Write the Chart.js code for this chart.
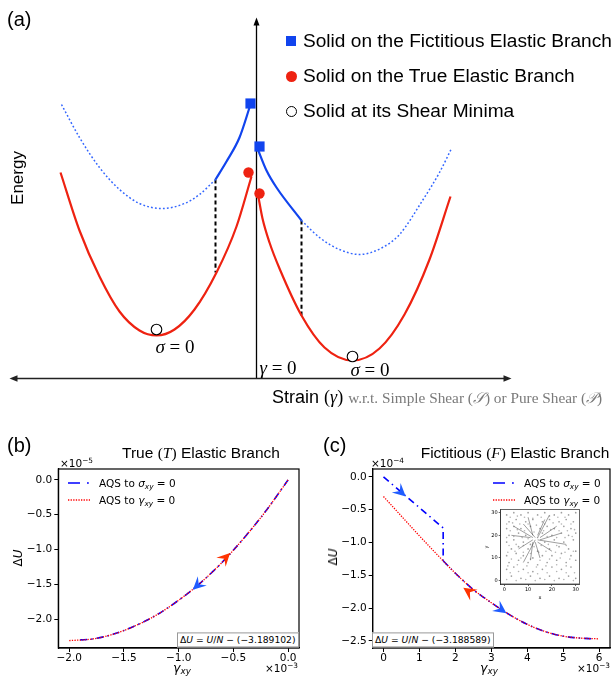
<!DOCTYPE html>
<html><head><meta charset="utf-8">
<script src="https://cdn.jsdelivr.net/npm/chart.js@4.4.1/dist/chart.umd.min.js"></script>
<style>
html,body{margin:0;padding:0;background:#fff}
body{width:616px;height:677px;position:relative;overflow:hidden;font-family:"Liberation Sans",Arial,sans-serif;color:#000}
canvas{position:absolute}
.t{position:absolute;white-space:nowrap;line-height:1}
.cm{font-family:"Liberation Serif","DejaVu Serif",serif;font-style:italic}
.rm{font-family:"Liberation Serif","DejaVu Serif",serif;font-style:normal}
.dj{font-family:"DejaVu Sans",sans-serif}
.it{font-style:italic}
sub{font-size:70%;vertical-align:-0.3em;line-height:0}
sup{font-size:70%;vertical-align:0.55em;line-height:0}
</style></head><body>
<canvas id="ca" width="616" height="410" style="left:0;top:0"></canvas>
<canvas id="cb" width="308" height="277" style="left:0;top:400px"></canvas>
<canvas id="cc" width="306" height="277" style="left:310px;top:400px"></canvas>
<canvas id="ci" width="106" height="100" style="left:478px;top:503px"></canvas>
<script>
// ================= DATA =================
// Panel (a): schematic energy landscape, strain (arb. units) vs energy (arb. units)
const trueLeftStrain  = [-1.96,-1.77,-1.57,-1.37,-1.17,-1.00,-0.82,-0.62,-0.40,-0.20,-0.05];
const trueLeftEnergy  = [ 2.06, 1.48, 1.02, 0.67, 0.48, 0.43, 0.49, 0.69, 1.06, 1.52, 2.02];
const trueRightStrain = [0.02,0.06,0.13,0.23,0.45,0.68,0.96,1.23,1.48,1.73,1.94];
const trueRightEnergy = [1.81,1.60,1.36,1.10,0.63,0.31,0.18,0.30,0.64,1.19,1.82];
const fictLeftStrain  = [-1.95,-1.77,-1.57,-1.37,-1.17,-0.94,-0.72,-0.57,-0.41];
const fictLeftEnergy  = [ 2.74, 2.41, 2.11, 1.89, 1.75, 1.70, 1.75, 1.84, 1.99];
const fictLeftPathStrain  = [-0.41,-0.30,-0.17,-0.06];
const fictLeftPathEnergy  = [ 1.99, 2.17, 2.41, 2.74];
const fictRightPathStrain = [0.01,0.10,0.20,0.45];
const fictRightPathEnergy = [2.30,2.08,1.91,1.58];
const fictRightStrain = [0.45,0.63,0.83,1.03,1.26,1.43,1.66,1.83,1.95];
const fictRightEnergy = [1.58,1.41,1.29,1.24,1.31,1.44,1.78,2.06,2.30];
const dropStrain = [-0.41, 0.45];
const dropTop    = [ 1.99, 1.58];
const dropBottom = [ 1.06, 0.63];
const fictMarkStrain = [-0.06, 0.03], fictMarkEnergy = [2.75, 2.32];
const trueMarkStrain = [-0.08, 0.03], trueMarkEnergy = [2.06, 1.85];
const minMarkStrain  = [-1.00, 0.96], minMarkEnergy  = [0.49, 0.22];
const strainAxisEnds = [-2.47, 2.55];
const energyAxisTop  = 3.61;

// Panel (b): True elastic branch, gamma_xy (x1e-3) vs dU (x1e-5)
const bGammaSigma = [-1.9,-1.8,-1.6,-1.4,-1.2,-1.0,-0.8,-0.6,-0.4,-0.2,0.0];
const bUSigma     = [-2.30,-2.29,-2.22,-2.10,-1.94,-1.73,-1.48,-1.18,-0.83,-0.44,0.0];
const bGammaGamma = [-2.0,-1.8,-1.6,-1.4,-1.2,-1.0,-0.8,-0.6,-0.4,-0.2,0.0];
const bUGamma     = [-2.31,-2.29,-2.22,-2.10,-1.94,-1.73,-1.48,-1.18,-0.83,-0.44,0.0];
const bXTicks = [-2.0,-1.5,-1.0,-0.5,0.0];
const bYTicks = [0.0,-0.5,-1.0,-1.5,-2.0];
const bArrowFrom = [[-0.63,-1.21],[-0.77,-1.43]];
const bArrowTip  = [[-0.53,-1.05],[-0.87,-1.58]];

// Panel (c): Fictitious elastic branch, gamma_xy (x1e-3) vs dU (x1e-4)
const cGammaSigmaJump = [0.0, 1.66, 1.66];
const cUSigmaJump     = [0.0,-0.78,-1.28];
const cGammaSigma = [1.66,2.0,2.5,3.0,3.5,4.0,4.5,5.0,5.5,5.85];
const cUSigma     = [-1.28,-1.47,-1.72,-1.92,-2.10,-2.25,-2.36,-2.43,-2.46,-2.47];
const cGammaGamma = [0,0.5,1.0,1.5,2.0,2.5,3.0,3.5,4.0,4.5,5.0,5.5,6.0];
const cUGamma     = [-0.30,-0.60,-0.90,-1.19,-1.47,-1.72,-1.92,-2.10,-2.25,-2.36,-2.43,-2.46,-2.47];
const cXTicks = [0,1,2,3,4,5,6];
const cYTicks = [0.0,-0.5,-1.0,-1.5,-2.0,-2.5];
const cArrowFrom = [[0.38,-0.18],[2.48,-1.79],[3.16,-1.98]];
const cArrowTip  = [[0.62,-0.30],[2.22,-1.69],[3.42,-2.08]];
const cArrowKind = ['sigma','gamma','sigma'];

// Inset: particle snapshot (x, y)
const insetX = [1,4,7,10,14,17,21,24,27,30, 2,5,9,12,16,19,23,26,29, 1,4,7,11,15,18,21,25,28, 2,6,9,16,20,24,27,30, 1,4,8,11,17,21,25,29, 3,6,10,14,19,23,27,30, 1,5,8,12,16,20,24,28, 2,6,10,14,18,22,26,30, 1,4,8,12,16,20,24,28, 3,7,11,15,19,23,27,30];
const insetY = [29,30,29,30,29,30,29,30,29,30, 26,27,26,27,26,27,26,27,26, 23,24,23,24,23,24,23,24,23, 20,21,20,21,20,21,20,21, 17,18,17,16,17,18,17,18, 14,15,14,13,14,15,14,13, 11,12,11,10,11,11,12,11, 8,9,8,7,8,9,8,9, 5,6,5,4,5,6,5,6, 2,1,2,1,2,1,2,1];
const insetX2 = [2.5,5.5,8.5,12,15.5,19,22.5,25.5, 1,3.5,6.5,10,13.5,17,20.5,24,28, 2.5,5.5,8.5,12.5,16.5,19.5,23,26.5,29.5, 1,4,7.5,10,14,18,22,25.5,28.5, 2,5,8,12.5,15.5,18.5,22,26, 1.5,4.5,8,11,14.5,17.5,21.5,25.5,29, 3,7,11,15,19,23.5,27.5, 1.5,5.5,9.5,13.5,17.5,22,26, 2.5,6,10,14,18,22,26,29.5, 1,5,9,13,17,21,25,29];
const insetY2 = [28,28.5,28,27.5,28,28.5,28,28, 25,25.5,25,25,24.5,25,25.5,25,25, 22,22.5,22,21.5,22,22.5,22,22,22.5, 19,19.5,19,18.5,19,19.5,19,19,19.5, 15.5,16,15.5,15,15.5,16,15.5,15.5, 12.5,13,12.5,12,12.5,13,12.5,12.5,13, 9.5,10,9.5,9,9.5,10,9.5, 6.5,7,6.5,6,6.5,7,6.5, 3.5,4,3.5,3,3.5,4,3.5,3.5, 0.5,0,0.5,0,0.5,0,0.5,0];
const streakFromX = [13,12,14,15,15,14,13,12,12,11,12,14,13,14];
const streakFromY = [19,20,20,19,18,17,17,17,18,19,19,19,18,18];
const streakToX   = [8,10,17,22,24,20,15,11,6,3,4,19,8,26];
const streakToY   = [25,28,27,24,21,13,10,9,14,20,24,29,8,16];
const insetTicks = [0,10,20,30];

// ================= HELPERS =================
const pts = (xs, ys) => xs.map((x,i)=>({x, y: ys[i]}));
const minus = v => (v<0?'\u2212':'') + Math.abs(v).toFixed(1);
const RED='#ff0000', BLUE='#0000ff', SRED='#ee2211', SBLUE='#1144ee', DBLUE='#3366ff';
const AR_RED='#ff3300', AR_BLUE='#1f5cff';

function T(html, x, y, o={}){
  const d=document.createElement('div');
  d.className='t '+(o.cls||'');
  d.innerHTML=html;
  d.style.left=x+'px'; d.style.top=y+'px';
  d.style.fontSize=(o.size||13)+'px';
  const tx = o.align==='center'?'-50%':(o.align==='right'?'-100%':'0');
  d.style.transform='translate('+tx+',-50%)'+(o.rot?' rotate('+o.rot+'deg)':'');
  if(o.color) d.style.color=o.color;
  if(o.css) d.style.cssText+=o.css;
  document.body.appendChild(d);
  return d;
}
function head(ctx,x0,y0,x1,y1,color,L,W){
  const a=Math.atan2(y1-y0,x1-x0);
  ctx.save(); ctx.translate(x1,y1); ctx.rotate(a);
  ctx.beginPath(); ctx.moveTo(0,0); ctx.lineTo(-L,-W); ctx.lineTo(-L*0.62,0); ctx.lineTo(-L,W); ctx.closePath();
  ctx.fillStyle=color; ctx.fill(); ctx.restore();
}
function tri(ctx,x,y,ang,L,W){
  ctx.save(); ctx.translate(x,y); ctx.rotate(ang);
  ctx.beginPath(); ctx.moveTo(0,0); ctx.lineTo(-L,-W); ctx.lineTo(-L,W); ctx.closePath(); ctx.fill(); ctx.restore();
}
Chart.defaults.animation=false;
Chart.defaults.font.family='DejaVu Sans';

// ================= PANEL (a) =================
const axesA = {id:'axesA', beforeDatasetsDraw(ch){
  const c=ch.ctx, X=ch.scales.x, Y=ch.scales.y;
  const x0=X.getPixelForValue(0), y0=Y.getPixelForValue(0);
  const yt=Y.getPixelForValue(energyAxisTop);
  const xl=X.getPixelForValue(strainAxisEnds[0]), xr=X.getPixelForValue(strainAxisEnds[1]);
  c.save(); c.strokeStyle='#000'; c.fillStyle='#000';
  c.lineWidth=1.3;
  c.beginPath(); c.moveTo(x0,y0); c.lineTo(x0,yt+6); c.stroke();
  tri(c,x0,yt,-Math.PI/2,8,3);
  c.strokeStyle='#222'; c.fillStyle='#222'; c.lineWidth=1.6;
  c.beginPath(); c.moveTo(xl+6,y0); c.lineTo(xr-6,y0); c.stroke();
  tri(c,xr,y0,0,8,3.2); tri(c,xl,y0,Math.PI,8,3.2);
  c.restore();
}};
const lineDS = (xs,ys,color,w,dash,extra={}) => Object.assign({data:pts(xs,ys),showLine:true,borderColor:color,borderWidth:w,borderDash:dash||[],pointRadius:0,cubicInterpolationMode:'monotone',fill:false},extra);
new Chart(document.getElementById('ca'),{
  type:'scatter',
  data:{datasets:[
    lineDS(fictLeftStrain,fictLeftEnergy,DBLUE,1.5,[1.8,2.2]),
    lineDS(fictRightStrain,fictRightEnergy,DBLUE,1.5,[1.8,2.2]),
    lineDS(trueLeftStrain,trueLeftEnergy,SRED,2.2),
    lineDS(trueRightStrain,trueRightEnergy,SRED,2.2),
    lineDS(fictLeftPathStrain,fictLeftPathEnergy,SBLUE,2.2),
    lineDS(fictRightPathStrain,fictRightPathEnergy,SBLUE,2.2),
    lineDS([dropStrain[0],dropStrain[0]],[dropTop[0],dropBottom[0]],'#000',2,[4,3],{tension:0}),
    lineDS([dropStrain[1],dropStrain[1]],[dropTop[1],dropBottom[1]],'#000',2,[4,3],{tension:0}),
    {data:pts(fictMarkStrain,fictMarkEnergy),pointStyle:'rect',pointRadius:7.2,backgroundColor:SBLUE,borderWidth:0,order:-1},
    {data:pts(trueMarkStrain,trueMarkEnergy),pointStyle:'circle',pointRadius:5.2,backgroundColor:SRED,borderWidth:0,order:-1},
    {data:pts(minMarkStrain,minMarkEnergy),pointStyle:'circle',pointRadius:5.3,backgroundColor:'#fff',borderColor:'#000',borderWidth:1.1,order:-1}
  ]},
  options:{responsive:false,layout:{padding:0,autoPadding:false},
    scales:{x:{type:'linear',display:false,min:-2.565,max:3.595},y:{type:'linear',display:false,min:-0.315,max:3.785}},
    plugins:{legend:{display:false},tooltip:{enabled:false}}},
  plugins:[axesA]
});

// ================= PANELS (b),(c) =================
function axis(pos,min,max,ticks,fmt,fit,font){
  const big=font>8;
  return {type:'linear',position:pos,min,max,
    afterBuildTicks(s){s.ticks=ticks.map(v=>({value:v}));},
    afterFit(s){ if(pos==='left') s.width=fit; else s.height=fit; },
    grid:{display:true,drawOnChartArea:false,drawTicks:true,tickLength:big?4:2,tickWidth:big?1:0.6,tickColor:'#000',color:'#000'},
    border:{display:true,color:'#000',width:big?1.2:0.6},
    ticks:{color:'#000',font:{family:'DejaVu Sans',size:font},padding:big?(pos==='left'?2:0):1,callback:fmt,autoSkip:false,maxRotation:0,minRotation:0}
  };
}
const frame={id:'frame',afterDatasetsDraw(ch,a,o){
  const c=ch.ctx,ar=ch.chartArea; c.save(); c.strokeStyle='#000'; c.lineWidth=o.w||1.2;
  c.strokeRect(ar.left,ar.top,ar.right-ar.left,ar.bottom-ar.top); c.restore();}};
function arrowsPlugin(from,tip,kinds){return {id:'arrows',afterDatasetsDraw(ch){
  const c=ch.ctx,X=ch.scales.x,Y=ch.scales.y;
  tip.forEach((t,i)=>{ const f=from[i];
    head(c,X.getPixelForValue(f[0]),Y.getPixelForValue(f[1]),X.getPixelForValue(t[0]),Y.getPixelForValue(t[1]),kinds[i]==='gamma'?AR_RED:AR_BLUE,13,6.5);
  });}};}
function legendPlugin(lx){return {id:'leg',afterDatasetsDraw(ch){
  const c=ch.ctx; c.save();
  c.strokeStyle=BLUE; c.lineWidth=1.6; c.setLineDash([12,7,1.8,20]);
  c.beginPath(); c.moveTo(lx,83); c.lineTo(lx+22,83); c.stroke();
  c.strokeStyle=RED; c.lineWidth=1.3; c.setLineDash([1.3,1.3]);
  c.beginPath(); c.moveTo(lx,100); c.lineTo(lx+22,100); c.stroke();
  c.restore();}};}
const sigmaStyle = {showLine:true,borderColor:BLUE,borderWidth:1.6,borderDash:[7,4,1.5,4],pointRadius:0,order:2};
const gammaStyle = {showLine:true,borderColor:RED,borderWidth:1.3,borderDash:[1.3,1.3],pointRadius:0,order:1,cubicInterpolationMode:'monotone'};

new Chart(document.getElementById('cb'),{
  type:'scatter',
  data:{datasets:[
    Object.assign({data:pts(bGammaSigma,bUSigma),cubicInterpolationMode:'monotone'},sigmaStyle),
    Object.assign({data:pts(bGammaGamma,bUGamma)},gammaStyle)
  ]},
  options:{responsive:false,layout:{padding:{left:0,top:69,right:9,bottom:0},autoPadding:false},
    scales:{x:axis('bottom',-2.1,0.1,bXTicks,minus,29,10.5),y:axis('left',-2.417,0.158,bYTicks,minus,58.3,10.5)},
    plugins:{legend:{display:false},tooltip:{enabled:false}}},
  plugins:[frame,arrowsPlugin(bArrowFrom,bArrowTip,['gamma','sigma']),legendPlugin(68)]
});

new Chart(document.getElementById('cc'),{
  type:'scatter',
  data:{datasets:[
    Object.assign({data:pts(cGammaSigmaJump,cUSigmaJump),tension:0},sigmaStyle),
    Object.assign({data:pts(cGammaSigma,cUSigma),cubicInterpolationMode:'monotone'},sigmaStyle),
    Object.assign({data:pts(cGammaGamma,cUGamma)},gammaStyle)
  ]},
  options:{responsive:false,layout:{padding:{left:0,top:69,right:6,bottom:0},autoPadding:false},
    scales:{x:axis('bottom',-0.3,6.3,cXTicks,v=>String(v),29,10.5),y:axis('left',-2.61,0.12,cYTicks,minus,62.7,10.5)},
    plugins:{legend:{display:false},tooltip:{enabled:false}}},
  plugins:[frame,arrowsPlugin(cArrowFrom,cArrowTip,cArrowKind),legendPlugin(183)]
});

// ================= INSET =================
const streakData=[];
streakFromX.forEach((x,i)=>{streakData.push({x,y:streakFromY[i]},{x:streakToX[i],y:streakToY[i]},{x:streakToX[i],y:null});});
const whiteBg={id:'wbg',beforeDatasetsDraw(ch){const c=ch.ctx,a=ch.chartArea;c.save();c.fillStyle='#fff';c.fillRect(a.left,a.top,a.right-a.left,a.bottom-a.top);c.restore();}};
new Chart(document.getElementById('ci'),{
  type:'scatter',
  data:{datasets:[
    {data:pts(insetX,insetY),pointRadius:0.85,backgroundColor:'rgba(80,80,80,0.55)',borderWidth:0},
    {data:pts(insetX2,insetY2),pointRadius:0.8,backgroundColor:'rgba(90,90,90,0.45)',borderWidth:0},
    {data:streakData,showLine:true,spanGaps:false,borderColor:'rgba(40,40,40,0.75)',borderWidth:0.6,pointRadius:0,tension:0}
  ]},
  options:{responsive:false,layout:{padding:{left:0,top:6.3,right:4.7,bottom:0},autoPadding:false},
    scales:{x:axis('bottom',-1.5,31.5,insetTicks,v=>String(v),19,5),y:axis('left',-1.5,31.5,insetTicks,v=>String(v),22.7,5)},
    plugins:{legend:{display:false},tooltip:{enabled:false},frame:{w:0.6}}},
  plugins:[whiteBg,frame]
});

// ================= TEXT =================
// Panel (a)
T('(a)',7,19,{size:20});
T('Energy',17,178,{size:17,align:'center',rot:-90});
const legA=[['Solid on the Fictitious Elastic Branch',41],['Solid on the True Elastic Branch',76],['Solid at its Shear Minima',111]];
legA.forEach(r=>T(r[0],303,r[1],{size:19.1}));
(function(){
  const m1=document.createElement('div'); m1.style.cssText='position:absolute;left:286px;top:36px;width:10px;height:10px;background:'+SBLUE;
  const m2=document.createElement('div'); m2.style.cssText='position:absolute;left:286px;top:70.5px;width:11px;height:11px;border-radius:50%;background:'+SRED;
  const m3=document.createElement('div'); m3.style.cssText='position:absolute;left:286px;top:105.5px;width:9px;height:9px;border-radius:50%;border:1.1px solid #000;background:#fff';
  document.body.append(m1,m2,m3);
})();
T('<span class="cm">σ</span><span class="rm"> = 0</span>',175,346,{size:19,align:'center'});
T('<span class="cm">σ</span><span class="rm"> = 0</span>',370,369,{size:19,align:'center'});
T('<span class="cm">γ</span><span class="rm"> = 0</span>',278,367,{size:19,align:'center'});
T('Strain <span class="rm">(</span><span class="cm">γ</span><span class="rm">)</span> <span class="rm" style="font-size:15.3px;color:#7a7a7a">w.r.t. Simple Shear (<i>𝒮</i>) or Pure Shear (<i>𝒫</i>)</span>',272,397,{size:18});

// Panel (b)
T('(b)',7,445,{size:20});
T('True <span class="rm">(</span><span class="cm">T</span><span class="rm">)</span> Elastic Branch',201,453,{size:15.5,align:'center'});
T('×10<sup>−5</sup>',60,463,{size:10.5,cls:'dj'});
T('Δ<span class="it">U</span>',18,558,{size:12,cls:'dj',align:'center',rot:-90});
T('<span class="it">γ<sub>xy</sub></span>',182,668,{size:12.5,cls:'dj',align:'center'});
T('×10<sup>−3</sup>',265,668,{size:10.5,cls:'dj'});
T('AQS to <span class="it">σ<sub>xy</sub></span> = 0',99,483,{size:10.5,cls:'dj'});
T('AQS to <span class="it">γ<sub>xy</sub></span> = 0',99,500,{size:10.5,cls:'dj'});
T('Δ<span class="it">U</span> = <span class="it">U</span>/<span class="it">N</span> − (−3.189102)',177,640,{size:9.2,cls:'dj',css:'border:1px solid #999;padding:2px 2px;background:#fff'});

// Panel (c)
T('(c)',323,445,{size:20});
T('Fictitious <span class="rm">(</span><span class="cm">F</span><span class="rm">)</span> Elastic Branch',515,453,{size:15.5,align:'center'});
T('×10<sup>−4</sup>',371,463,{size:10.5,cls:'dj'});
T('Δ<span class="it">U</span>',333,557,{size:12,cls:'dj',align:'center',rot:-90});
T('<span class="it">γ<sub>xy</sub></span>',489,668,{size:12.5,cls:'dj',align:'center'});
T('×10<sup>−3</sup>',577,668,{size:10.5,cls:'dj'});
T('AQS to <span class="it">σ<sub>xy</sub></span> = 0',524,483,{size:10.5,cls:'dj'});
T('AQS to <span class="it">γ<sub>xy</sub></span> = 0',524,500,{size:10.5,cls:'dj'});
T('Δ<span class="it">U</span> = <span class="it">U</span>/<span class="it">N</span> − (−3.188589)',372,640,{size:9.2,cls:'dj',css:'border:1px solid #999;padding:2px 2px;background:#fff'});
T('x',540,597,{size:5,cls:'dj',align:'center'});
T('y',486,547,{size:5,cls:'dj',align:'center',rot:-90});
</script>
</body></html>
